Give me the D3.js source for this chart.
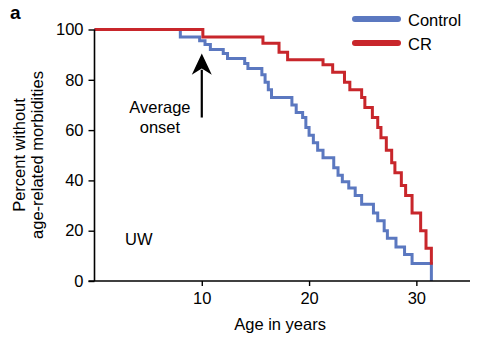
<!DOCTYPE html>
<html>
<head>
    <meta charset="utf-8">
    <script src="https://cdn.jsdelivr.net/npm/d3@7/dist/d3.min.js"></script>
    <style>
        body { margin: 0; background: white; }
        text { font-family: "Liberation Sans", Arial, sans-serif; }
    </style>
</head>
<body>
    <svg width="480" height="341" id="mainsvg"></svg>
    <script>
        // step data: age (years) and percent without morbidities
        const controlAge = [0, 8.0, 9.8, 10.3, 10.8, 12.0, 12.4, 14.0, 14.3, 15.6, 15.9, 16.2, 16.5, 18.4, 18.8, 19.4, 19.7,
            20.0, 20.4, 20.8, 21.3, 22.3, 22.7, 23.1, 23.7, 24.3, 24.9, 26.0, 26.4, 27.0, 27.3, 28.1, 28.9, 29.6, 31.4];
        const controlPct = [100, 97, 95.5, 94, 92, 90.5, 88.5, 86.5, 84.5, 82, 79, 76, 73, 70, 67, 65, 61,
            58, 55, 52, 49, 45, 42, 39.5, 37, 34, 30.5, 27, 24, 20, 17, 13.5, 10.5, 7, 0];
        const crAge = [0, 10.1, 15.7, 17.2, 18.0, 21.3, 22.2, 23.3, 23.8, 24.9, 25.2, 25.9, 26.4, 26.7, 27.2, 27.7,
            28.0, 28.6, 29.0, 29.6, 30.4, 30.9, 31.4];
        const crPct = [100, 97, 94.5, 91, 88, 86, 83, 79, 76, 73, 69, 65, 61, 57, 52, 47,
            43, 38, 34, 27, 20, 13, 6.5];
        const seriesNames = ['Control', 'CR'];
        const seriesColors = ['#5b78c0', '#c8262b'];
        const xTicks = [10, 20, 30];
        const yTicks = [0, 20, 40, 60, 80, 100];

        const svg = d3.select('#mainsvg');
        const x = d3.scaleLinear().domain([0, 35]).range([94.5, 470]);
        const y = d3.scaleLinear().domain([0, 100]).range([281, 29.5]);

        const line = d3.line()
            .x(d => x(d[0]))
            .y(d => y(d[1]))
            .curve(d3.curveStepAfter);

        const control = controlAge.map((a, i) => [a, controlPct[i]]);
        const cr = crAge.map((a, i) => [a, crPct[i]]);

        svg.append('path').datum(control)
            .attr('d', line).attr('fill', 'none')
            .attr('stroke', seriesColors[0]).attr('stroke-width', 3);
        svg.append('path').datum(cr)
            .attr('d', line).attr('fill', 'none')
            .attr('stroke', seriesColors[1]).attr('stroke-width', 3);

        // axes
        const xAxis = svg.append('g').attr('transform', `translate(0, ${y(0)})`)
            .call(d3.axisBottom(x).tickValues(xTicks).tickSize(5).tickPadding(6));
        xAxis.select('.domain').attr('d', `M${x(0) - 6},0H470`);
        const yAxis = svg.append('g').attr('transform', `translate(${x(0)}, 0)`)
            .call(d3.axisLeft(y).tickValues(yTicks).tickSize(6).tickPadding(5));
        yAxis.select('.domain').attr('d', `M0,${y(100)}V${y(0)}`);
        svg.selectAll('.domain').attr('stroke', 'black').attr('stroke-width', 1.6);
        svg.selectAll('.tick line').attr('stroke', 'black').attr('stroke-width', 1.4);
        svg.selectAll('.tick text').attr('font-size', 16.5).attr('fill', 'black')
            .style('font-family', '"Liberation Sans", Arial, sans-serif');

        svg.append('text').attr('x', x(17.3)).attr('y', 330)
            .attr('text-anchor', 'middle').attr('font-size', 16.5).text('Age in years');

        const yl = svg.append('text').attr('transform', 'translate(25, 155) rotate(-90)')
            .attr('text-anchor', 'middle').attr('font-size', 16.5);
        yl.append('tspan').attr('x', 0).attr('y', 0).text('Percent without');
        yl.append('tspan').attr('x', 0).attr('y', 17.5).text('age-related morbidities');

        svg.append('text').attr('x', 10).attr('y', 19)
            .attr('font-size', 19).attr('font-weight', 'bold').text('a');

        // annotation
        svg.append('line')
            .attr('x1', x(10)).attr('x2', x(10))
            .attr('y1', y(65)).attr('y2', y(84))
            .attr('stroke', 'black').attr('stroke-width', 2.2);
        svg.append('path')
            .attr('d', `M${x(10)},${y(90.5)}L${x(10) - 10},${y(82)}L${x(10)},${y(84.5)}L${x(10) + 10},${y(82)}Z`)
            .attr('fill', 'black');
        svg.append('text').attr('x', x(6.1)).attr('y', 113)
            .attr('text-anchor', 'middle').attr('font-size', 16.5).text('Average');
        svg.append('text').attr('x', x(6.1)).attr('y', 133)
            .attr('text-anchor', 'middle').attr('font-size', 16.5).text('onset');
        svg.append('text').attr('x', 125).attr('y', 245)
            .attr('font-size', 16.5).text('UW');

        // legend
        const legend = svg.append('g');
        seriesNames.forEach((name, i) => {
            const ly = 19 + i * 24;
            legend.append('line')
                .attr('x1', 355).attr('x2', 398).attr('y1', ly).attr('y2', ly)
                .attr('stroke', seriesColors[i]).attr('stroke-width', 6)
                .attr('stroke-linecap', 'round');
            legend.append('text').attr('x', 408).attr('y', ly + 6.5)
                .attr('font-size', 16.5).text(name);
        });
    </script>
</body>
</html>
